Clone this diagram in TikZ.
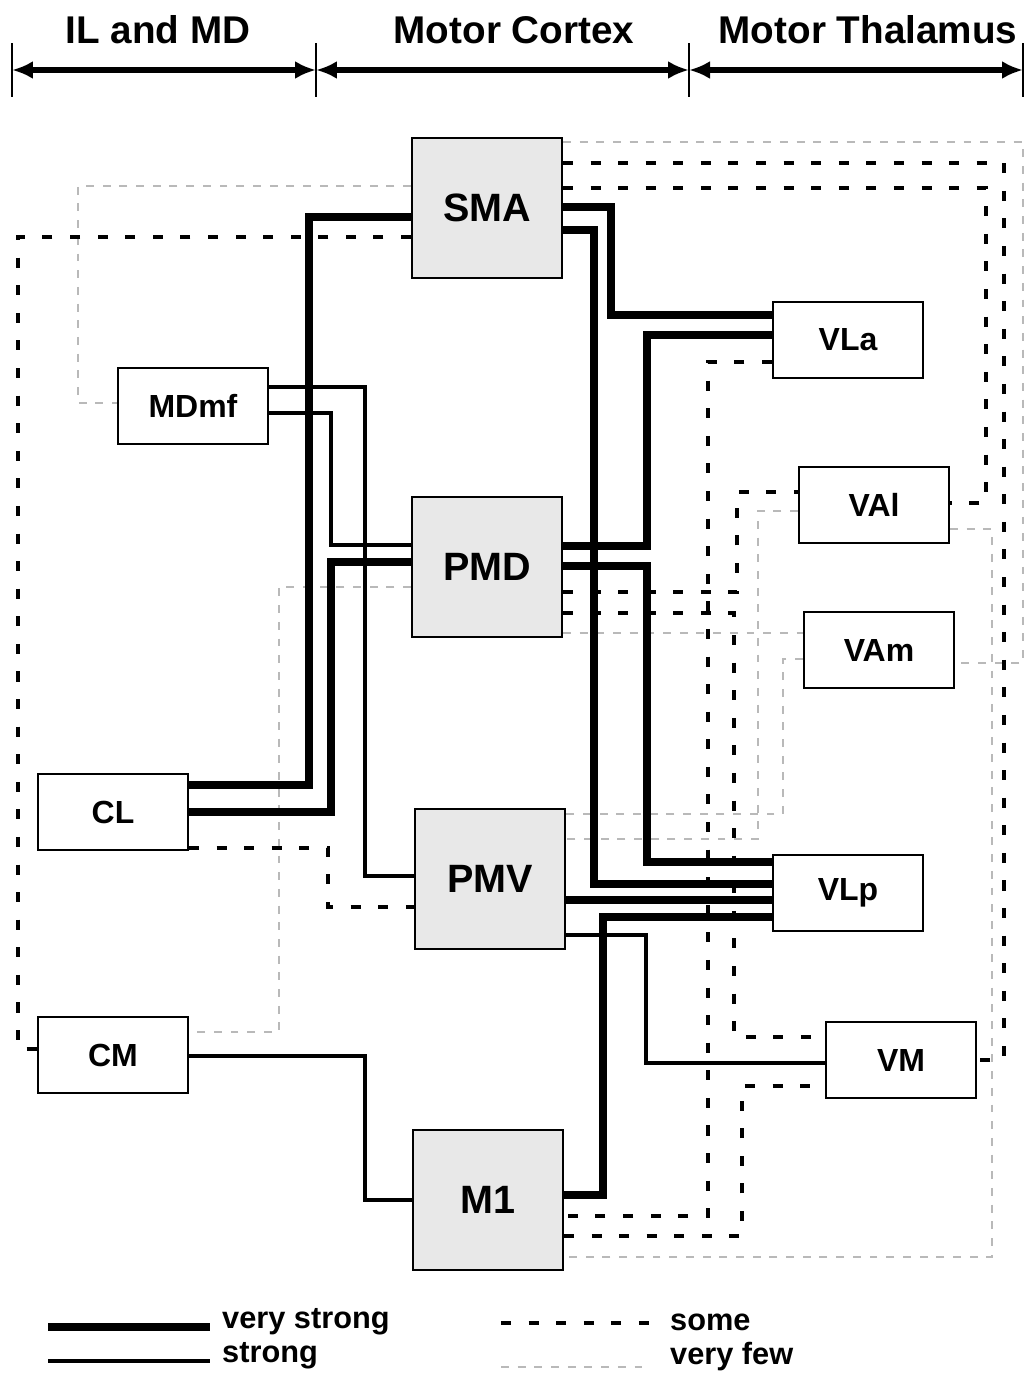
\documentclass[tikz,border=0pt]{standalone}
\usepackage{fontspec}
\setmainfont{Liberation Sans}
\usetikzlibrary{calc,arrows.meta}

\begin{document}
\begin{tikzpicture}[x = {(0.02cm,0cm)},
  y = {(0cm,-0.02cm)},
  cortex/.style = {draw, line width=1.1pt, fill=gray!18, minimum width=3cm,
    minimum height=2.8cm, font=\bfseries\fontsize{22.5}{27}\selectfont},
  nucleus/.style = {draw, line width=1.1pt, fill=white, minimum width=3cm,
    minimum height=1.52cm, font=\bfseries\fontsize{18.2}{22}\selectfont},
  region/.style = {font=\bfseries\fontsize{22}{26}\selectfont},
  legendtext/.style = {anchor=west, font=\bfseries\fontsize{17.5}{21}\selectfont},
  vstrong/.style = {line width=4.2pt},
  strongline/.style = {line width=2pt},
  someline/.style = {line width=2.4pt, dash pattern=on 5.7pt off 10pt},
  fewline/.style = {draw=gray!55, line width=0.8pt, dash pattern=on 4.5pt off 5pt}]

  \useasboundingbox (0,0) rectangle (1026,1373);

  % header
  \foreach \tx [count=\i] in {12,316,689,1023}
  {
  \coordinate (tick\i) at (\tx,70);
  \draw[line width=0.9pt] ($(tick\i)+(0,-27)$) -- ($(tick\i)+(0,27)$);
  }
  \foreach \a/\b in {1/2,2/3,3/4}
  \draw[<->, >={Latex[length=0.42cm,width=0.36cm]}, line width=3.2pt]
  (tick\a) -- (tick\b);

  \node[region] (ilmd) at (158,30) {IL and MD};
  \node[region] (cortex) at (514,30) {Motor Cortex};
  \node[region] (thalamus) at (868,30) {Motor Thalamus};

  % cortical areas
  \node[cortex] (SMA) at (487,208) {SMA};
  \node[cortex] (PMD) at (487,567) {PMD};
  \node[cortex] (PMV) at (490,879) {PMV};
  \node[cortex] (M1) at (488,1200) {M1};

  % intralaminar and MD
  \node[nucleus] (MDmf) at (193,406) {MDmf};
  \node[nucleus] (CL) at (113,812) {CL};
  \node[nucleus] (CM) at (113,1055) {CM};

  % motor thalamus
  \node[nucleus] (VLa) at (848,340) {VLa};
  \node[nucleus] (VAl) at (874,505) {VAl};
  \node[nucleus] (VAm) at (879,650) {VAm};
  \node[nucleus] (VLp) at (848,893) {VLp};
  \node[nucleus] (VM) at (901,1060) {VM};

  % very few
  \draw[fewline] ($(SMA.east)+(0,-66)$) -| (1023,663) -- ($(VAm.east)+(0,13)$);
  \draw[fewline] ($(SMA.west)+(0,-22)$) -| (78,403) -- ($(MDmf.west)+(0,-3)$);
  \draw[fewline] ($(PMD.west)+(0,20)$) -| (279,1032) -- ($(CM.east)+(0,-23)$);
  \draw[fewline] ($(PMD.east)+(0,66)$) -- ($(VAm.west)+(0,-17)$);
  \draw[fewline] ($(VAl.west)+(0,6)$) -| (758,839) -- ($(PMV.east)+(0,-40)$);
  \draw[fewline] ($(VAm.west)+(0,9)$) -| (783,814) -- ($(PMV.east)+(0,-65)$);
  \draw[fewline] ($(VAl.east)+(0,24)$) -| (992,1257) -- ($(M1.east)+(0,57)$);

  % some
  \draw[someline] ($(SMA.west)+(0,29)$) -| (18,1049) -- ($(CM.west)+(0,-6)$);
  \draw[someline] ($(SMA.east)+(0,-45)$) -| (1004,1060) -- (VM.east);
  \draw[someline] ($(SMA.east)+(0,-20)$) -| (986,503) -- ($(VAl.east)+(0,-2)$);
  \draw[someline] ($(VLa.west)+(0,22)$) -| (708,1216) -- ($(M1.east)+(0,16)$);
  \draw[someline] ($(PMD.east)+(0,25)$) -| (737,492) -- ($(VAl.west)+(0,-13)$);
  \draw[someline] ($(PMD.east)+(0,46)$) -| (734,1037) -- ($(VM.west)+(0,-23)$);
  \draw[someline] ($(CL.east)+(0,36)$) -| (328,907) -- ($(PMV.west)+(0,28)$);
  \draw[someline] ($(M1.east)+(0,36)$) -| (742,1086) -- ($(VM.west)+(0,26)$);

  % strong
  \draw[strongline] ($(MDmf.east)+(0,-19)$) -| (365,876) -- ($(PMV.west)+(0,-3)$);
  \draw[strongline] ($(MDmf.east)+(0,7)$) -| (331,545) -- ($(PMD.west)+(0,-22)$);
  \draw[strongline] ($(CM.east)+(0,1)$) -| (365,1200) -- (M1.west);
  \draw[strongline] ($(PMV.east)+(0,56)$) -| (646,1063) -- ($(VM.west)+(0,3)$);

  % very strong
  \draw[vstrong] ($(SMA.west)+(0,9)$) -| (309,785) -- ($(CL.east)+(0,-27)$);
  \draw[vstrong] ($(PMD.west)+(0,-5)$) -| (331,812) -- (CL.east);
  \draw[vstrong] ($(SMA.east)+(0,-1)$) -| (611,315) -- ($(VLa.west)+(0,-25)$);
  \draw[vstrong] ($(SMA.east)+(0,22)$) -| (594,884) -- ($(VLp.west)+(0,-9)$);
  \draw[vstrong] ($(PMD.east)+(0,-21)$) -| (647,335) -- ($(VLa.west)+(0,-5)$);
  \draw[vstrong] ($(PMD.east)+(0,-1)$) -| (647,862) -- ($(VLp.west)+(0,-31)$);
  \draw[vstrong] ($(PMV.east)+(0,21)$) -- ($(VLp.west)+(0,7)$);
  \draw[vstrong] ($(M1.east)+(0,-5)$) -| (603,917) -- ($(VLp.west)+(0,24)$);

  % legend
  \coordinate (vsA) at (48,1327);
  \coordinate (vsB) at (210,1327);
  \coordinate (stA) at (48,1361);
  \coordinate (stB) at (210,1361);
  \coordinate (soA) at (501,1323);
  \coordinate (soB) at (651,1323);
  \coordinate (vfA) at (501,1367);
  \coordinate (vfB) at (651,1367);
  \draw[vstrong, line width=5pt] (vsA) -- (vsB);
  \draw[strongline, line width=2.4pt] (stA) -- (stB);
  \draw[someline] (soA) -- (soB);
  \draw[fewline] (vfA) -- (vfB);
  \node[legendtext] (vslabel) at (216,1322) {very strong};
  \node[legendtext] (stlabel) at (216,1356) {strong};
  \node[legendtext] (solabel) at (664,1322) {some};
  \node[legendtext] (vflabel) at (664,1357) {very few};
\end{tikzpicture}
\end{document}
